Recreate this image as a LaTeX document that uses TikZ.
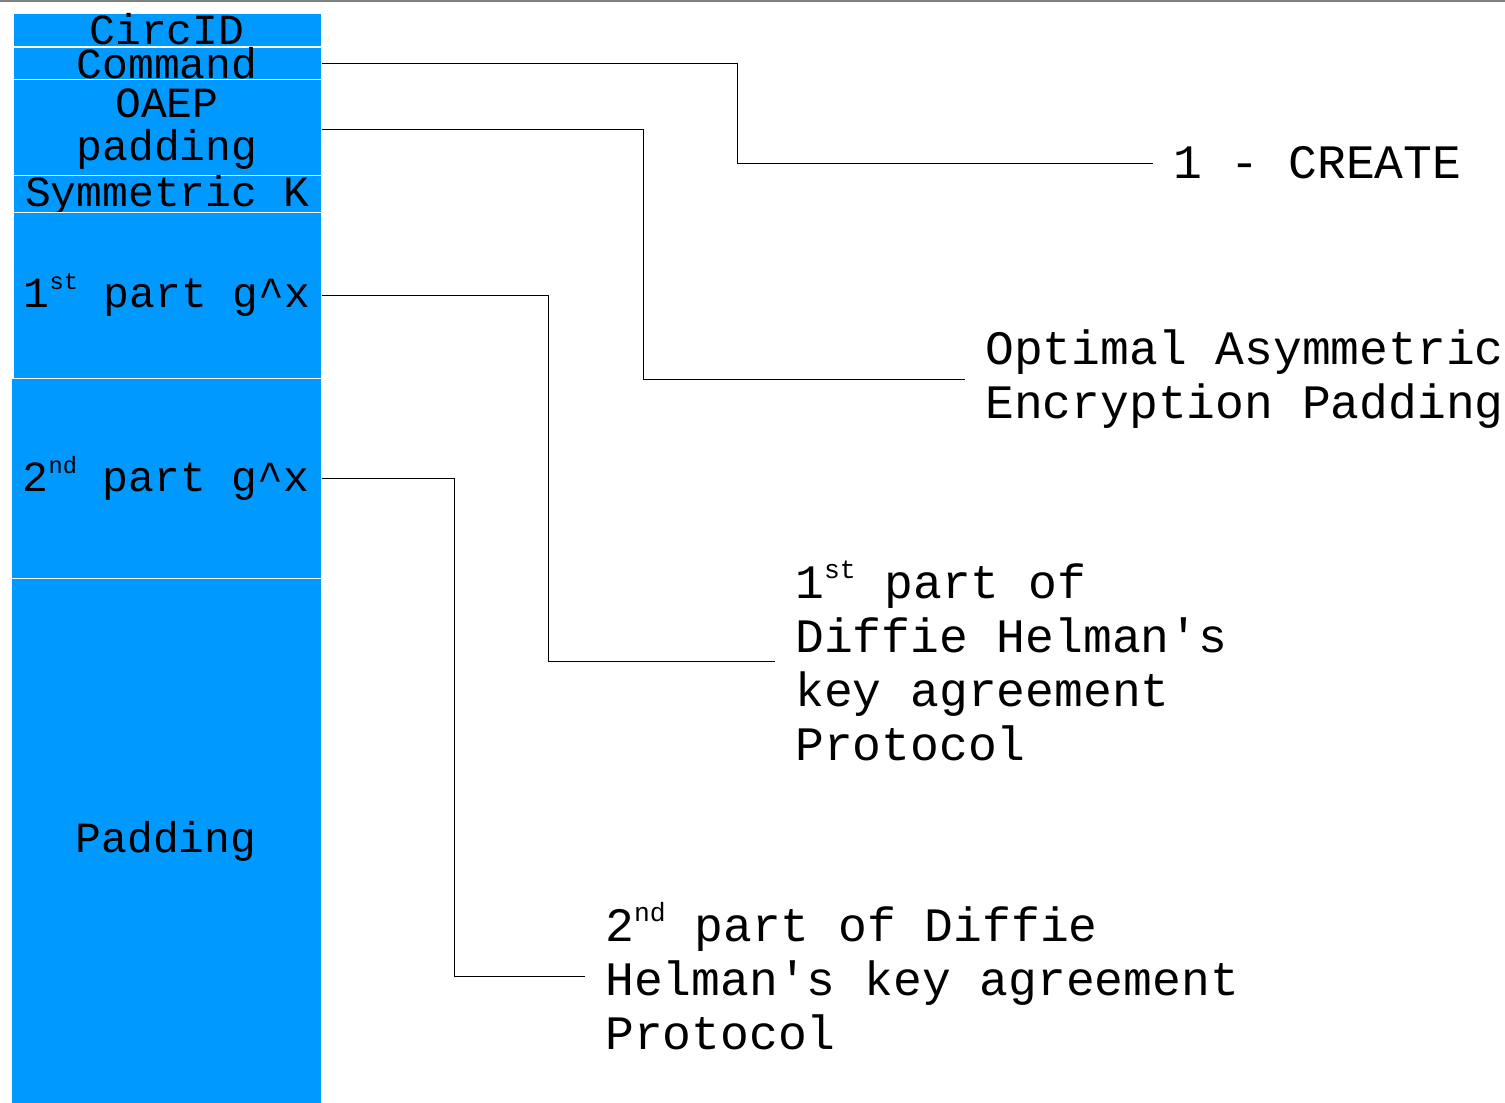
\documentclass[tikz,border=0pt]{standalone}
\usepackage{fontspec}
\setmainfont{Liberation Mono}
\definecolor{cellblue}{RGB}{0,153,255}
% small raised ordinal suffix
\newcommand\ordsup[1]{\raisebox{0.8ex}{\scalebox{0.55}{#1}}}
\tikzset{
  cell/.style={draw=white, line width=1pt, fill=cellblue, inner sep=0pt, align=center,
    minimum width=308, font=\fontsize{43}{43}\selectfont},
  note/.style={anchor=west, inner xsep=20pt, inner ysep=0pt, align=left,
    font=\fontsize{48}{54}\selectfont},
  wire/.style={line width=1pt}
}
\begin{document}
\begin{tikzpicture}[x=1pt, y=-1pt]
\useasboundingbox (0,0) rectangle (1505,1103);
\draw[gray, line width=2pt] (0,1) -- (1505,1);

% cell fields
\node[cell, minimum height=33] (circid) at (167,29.5) {CircID};
\node[cell, minimum height=32] (command) at (167,63) {Command};
\node[cell, minimum height=100] (oaep) at (167,129) {OAEP\\padding};
\node[cell, minimum height=33] (symk) at (167,195.5) {Symmetric K};
\node[cell, minimum height=166] (gxa) at (167,295) {1\ordsup{st} part g\^{}x};
\node[cell, minimum width=310, minimum height=200] (gxb) at (166,478) {2\ordsup{nd} part g\^{}x};
\node[cell, minimum width=310, minimum height=526] (pad) at (166,841) {Padding};

% notes
\node[note] (create) at (1153,163) {1 - CREATE};
\node[note] (oaepnote) at (965,379) {Optimal Asymmetric\\Encryption Padding};
\node[note] (dha) at (775,661) {1\ordsup{st} part of\\Diffie Helman\textquotesingle s\\key agreement\\Protocol};
\node[note] (dhb) at (585,976) {2\ordsup{nd} part of Diffie\\Helman\textquotesingle s key agreement\\Protocol};

\draw[wire] (command.east) -- ++(416,0) |- (create.west);
\draw[wire] (oaep.east) -- ++(322,0) |- (oaepnote.west);
\draw[wire] (gxa.east) -- ++(227,0) |- (dha.west);
\draw[wire] (gxb.east) -- ++(133,0) |- (dhb.west);
\end{tikzpicture}
\end{document}
